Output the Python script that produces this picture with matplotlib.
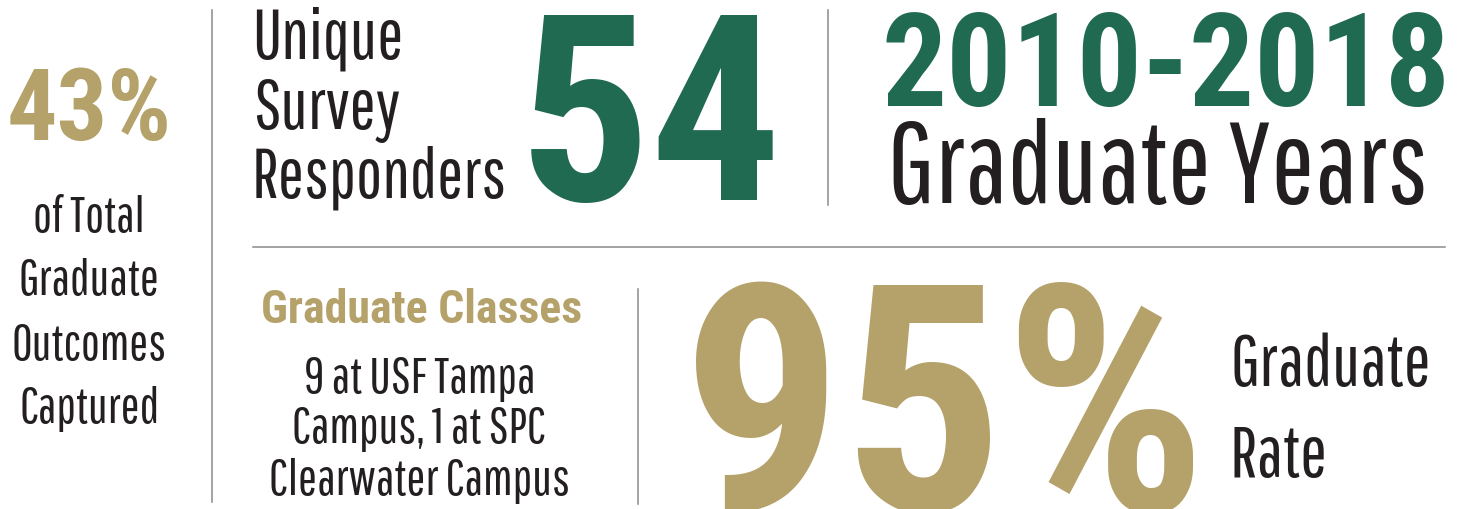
import matplotlib
matplotlib.use("Agg")
import matplotlib.pyplot as plt
from matplotlib.textpath import TextPath
from matplotlib.font_manager import FontProperties

# ---------------- data ----------------
captured_share = "43%"
captured_label = ["of Total", "Graduate", "Outcomes", "Captured"]
responders_label = ["Unique", "Survey", "Responders"]
responders_count = "54"
grad_years = "2010-2018"
grad_years_label = "Graduate Years"
classes_title = "Graduate Classes"
classes_lines = ["9 at USF Tampa", "Campus, 1 at SPC", "Clearwater Campus"]
grad_rate = "95%"
grad_rate_label = ["Graduate", "Rate"]

# ---------------- style ----------------
GOLD = "#B5A16A"
GREEN = "#206A52"
DARK = "#231F20"
RULE = "#8a8a8a"
TEXT_FONT = ["Pathway Gothic One", "Liberation Sans", "DejaVu Sans"]
BOLD_FONT = ["Roboto Condensed", "Liberation Sans", "DejaVu Sans"]

W, H, DPI = 1462, 509, 100
fig = plt.figure(figsize=(W / DPI, H / DPI), dpi=DPI)
ax = fig.add_axes([0, 0, 1, 1])
ax.set_xlim(0, W)
ax.set_ylim(H, 0)
ax.axis("off")


def ink(s, family, weight, size_px):
    fp = FontProperties(family=family, weight=weight, size=100)
    e = TextPath((0, 0), s, prop=fp).get_extents()
    k = size_px / 100.0
    return e.x0 * k, e.x1 * k


def fit_size(ref, cap_px, width_px, family, weight, wweight):
    """font size (px) balancing target cap height and target ink width"""
    fp = FontProperties(family=family, weight=weight, size=100)
    cap = TextPath((0, 0), "H", prop=fp).get_extents().y1 / 100.0
    wid = TextPath((0, 0), ref, prop=fp).get_extents().width / 100.0
    return (cap_px / cap) ** (1 - wweight) * (width_px / wid) ** wweight


def block(lines, x, baselines, ref, cap_px, width_px, color, family,
          weight="normal", ha="left"):
    wweight = 0.9 if weight == "bold" else 0.7
    size_px = fit_size(ref, cap_px, width_px, family, weight, wweight)
    for s, b in zip(lines, baselines):
        x0, x1 = ink(s, family, weight, size_px)
        ox = x - x0 if ha == "left" else x - (x0 + x1) / 2.0
        ax.text(ox, b, s, color=color, family=family, weight=weight,
                fontsize=size_px * 72.0 / DPI, ha="left", va="baseline")


# left column
block([captured_share], 89, [140], captured_share, 70, 158, GOLD, BOLD_FONT, "bold", ha="center")
block(captured_label, 89, [232, 295, 360, 423], "Outcomes", 33, 155, DARK, TEXT_FONT, ha="center")
ax.plot([212, 212], [10, 502], color=RULE, lw=1.1)

# responders
block(responders_label, 256, [58, 129, 198], "Responders", 47, 252, DARK, TEXT_FONT)
block([responders_count], 531, [200], responders_count, 188, 242, GREEN, BOLD_FONT, "bold")
ax.plot([828, 828], [10, 205], color=RULE, lw=1.1)

# years
block([grad_years], 886, [106], grad_years, 96, 556, GREEN, BOLD_FONT, "bold")
block([grad_years_label], 894, [203], grad_years_label, 78, 538, DARK, TEXT_FONT)

ax.plot([253, 1445], [247, 247], color=RULE, lw=1.1)

# classes
block([classes_title], 263, [323], classes_title, 35, 315, GOLD, BOLD_FONT, "bold")
block(classes_lines, 420, [393, 443, 495], "Clearwater Campus", 32, 310, DARK, TEXT_FONT, ha="center")
ax.plot([638, 638], [289, 504], color=RULE, lw=1.1)

# rate
block([grad_rate], 696, [511], grad_rate, 218, 499, GOLD, BOLD_FONT, "bold")
block(grad_rate_label, 1234, [386, 477], "Graduate", 46, 201, DARK, TEXT_FONT)

fig.savefig("out.png", dpi=DPI)
